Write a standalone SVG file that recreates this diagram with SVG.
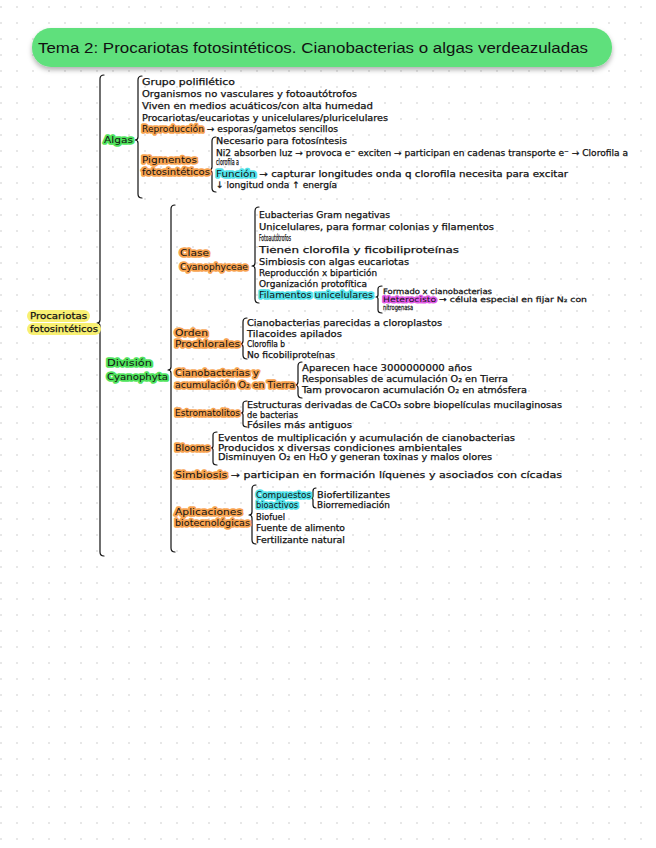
<svg xmlns="http://www.w3.org/2000/svg" width="656" height="848" viewBox="0 0 656 848">
<defs>
<pattern id="dots" x="0" y="0" width="16" height="16" patternUnits="userSpaceOnUse">
<circle cx="1" cy="7" r="0.8" fill="#c9c9c9"/>
</pattern>
<filter id="sh" x="-5%" y="-30%" width="110%" height="170%">
<feDropShadow dx="0" dy="3" stdDeviation="2.5" flood-color="#000" flood-opacity="0.3"/>
</filter>
<style>
.t{font-family:"DejaVu Sans","Liberation Sans",sans-serif;font-size:9px;fill:#111;stroke:#111;stroke-width:0.25;}
.s{font-size:7.5px;}
.hg{stroke:#4fe35c;stroke-width:3.5;stroke-linejoin:round;paint-order:stroke;}
.ho{stroke:#f7a24f;stroke-width:3.5;stroke-linejoin:round;paint-order:stroke;}
.ht{stroke:#52e3ea;stroke-width:3.5;stroke-linejoin:round;paint-order:stroke;}
.hm{stroke:#e25ae8;stroke-width:3;stroke-linejoin:round;paint-order:stroke;}
.br{fill:none;stroke:#111;stroke-width:1.2;stroke-linecap:round;stroke-linejoin:round;}
.title{font-family:"Liberation Sans",sans-serif;font-size:15px;fill:#111;}
</style>
</defs>
<rect width="656" height="848" fill="#fff"/>
<rect width="656" height="848" fill="url(#dots)"/>

<g id="title">
<rect x="32" y="28" width="580" height="39" rx="19" fill="#5fe07b" filter="url(#sh)"/>
<text class="title" x="38" y="53" textLength="550" lengthAdjust="spacingAndGlyphs">Tema 2: Procariotas fotosintéticos. Cianobacterias o algas verdeazuladas</text>
</g>

<g id="connectors">
<path class="br" d="M104 75 Q100 75 100 79 L100 320 Q100 323 97 323 Q100 323 100 326 L100 552 Q100 556 104 556"/>
<path class="br" d="M142 76 Q138 76 138 80 L138 137 Q138 140 135 140 Q138 140 138 143 L138 194 Q138 198 142 198"/>
<path class="br" d="M216 137 Q212 137 212 141 L212 167 Q212 170 209 170 Q212 170 212 173 L212 188 Q212 192 216 192"/>
<path class="br" d="M175 205 Q171 205 171 209 L171 367 Q171 370 168 370 Q171 370 171 373 L171 548 Q171 552 175 552"/>
<path class="br" d="M259 207 Q255 207 255 211 L255 263 Q255 266 252 266 Q255 266 255 269 L255 299 Q255 303 259 303"/>
<path class="br" d="M382 286 Q378 286 378 289 L378 295 Q378 297 376 297 Q378 297 378 299 L378 310 Q378 313 382 313"/>
<path class="br" d="M247 318 Q243 318 243 322 L243 341 Q243 344 240 344 Q243 344 243 347 L243 355 Q243 359 247 359"/>
<path class="br" d="M302 362 Q298 362 298 366 L298 382 Q298 385 295 385 Q298 385 298 388 L298 394 Q298 398 302 398"/>
<path class="br" d="M247 401 Q243 401 243 404 L243 411 Q243 413 241 413 Q243 413 243 415 L243 424 Q243 427 247 427"/>
<path class="br" d="M217 432 Q213 432 213 435 L213 446 Q213 448 211 448 Q213 448 213 450 L213 462 Q213 465 217 465"/>
<path class="br" d="M256 485 Q252 485 252 489 L252 512 Q252 515 249 515 Q252 515 252 518 L252 540 Q252 544 256 544"/>
<path class="br" d="M316 488 Q313 488 313 491 L313 496 Q313 498 311 498 Q313 498 313 500 L313 505 Q313 508 316 508"/>
</g>

<g id="procariotas">
<rect x="27" y="310" width="63" height="12" rx="6" fill="#f8f072"/>
<rect x="27" y="323" width="74" height="12" rx="6" fill="#f8f072"/>
<text class="t" x="30" y="319" textLength="57" lengthAdjust="spacingAndGlyphs">Procariotas</text>
<text class="t" x="30" y="332" textLength="68" lengthAdjust="spacingAndGlyphs">fotosintéticos</text>
</g>

<g id="algas">
<text class="t hg" x="104" y="143" textLength="29" lengthAdjust="spacingAndGlyphs">Algas</text>
<text class="t" x="142" y="85" textLength="93" lengthAdjust="spacingAndGlyphs">Grupo polifilético</text>
<text class="t" x="142" y="97" textLength="215" lengthAdjust="spacingAndGlyphs">Organismos no vasculares y fotoautótrofos</text>
<text class="t" x="142" y="109" textLength="231" lengthAdjust="spacingAndGlyphs">Viven en medios acuáticos/con alta humedad</text>
<text class="t" x="142" y="121" textLength="246" lengthAdjust="spacingAndGlyphs">Procariotas/eucariotas y unicelulares/pluricelulares</text>
<text class="t" x="142" y="132" textLength="196" lengthAdjust="spacingAndGlyphs"><tspan class="ho">Reproducción</tspan> → esporas/gametos sencillos</text>
</g>

<g id="pigmentos">
<text class="t ho" x="142" y="163" textLength="55" lengthAdjust="spacingAndGlyphs">Pigmentos</text>
<text class="t ho" x="142" y="175" textLength="68" lengthAdjust="spacingAndGlyphs">fotosintéticos</text>
<text class="t" x="216" y="144" textLength="131" lengthAdjust="spacingAndGlyphs">Necesario para fotosíntesis</text>
<text class="t" x="216" y="156" textLength="412" lengthAdjust="spacingAndGlyphs">Ni2 absorben luz → provoca e⁻ exciten → participan en cadenas transporte e⁻ → Clorofila a</text>
<text class="t" x="216" y="165" textLength="23" lengthAdjust="spacingAndGlyphs">clorofila a</text>
<text class="t" x="216" y="177" textLength="352" lengthAdjust="spacingAndGlyphs"><tspan class="ht">Función</tspan> → capturar longitudes onda q clorofila necesita para excitar</text>
<text class="t" x="216" y="188" textLength="121" lengthAdjust="spacingAndGlyphs">↓ longitud onda ↑ energía</text>
</g>

<g id="division">
<text class="t hg" x="107" y="366" textLength="45" lengthAdjust="spacingAndGlyphs">División</text>
<text class="t hg" x="107" y="380" textLength="61" lengthAdjust="spacingAndGlyphs">Cyanophyta</text>
</g>

<g id="clase">
<text class="t ho" x="180" y="256" textLength="29" lengthAdjust="spacingAndGlyphs">Clase</text>
<text class="t ho" x="180" y="270" textLength="68" lengthAdjust="spacingAndGlyphs">Cyanophyceae</text>
<text class="t" x="259" y="218" textLength="131" lengthAdjust="spacingAndGlyphs">Eubacterias Gram negativas</text>
<text class="t" x="259" y="229.5" textLength="235" lengthAdjust="spacingAndGlyphs">Unicelulares, para formar colonias y filamentos</text>
<text class="t" x="259" y="241" textLength="32" lengthAdjust="spacingAndGlyphs">Fotoautótrofos</text>
<text class="t" x="259" y="253" textLength="200" lengthAdjust="spacingAndGlyphs">Tienen clorofila y ficobiliproteínas</text>
<text class="t" x="259" y="265" textLength="150" lengthAdjust="spacingAndGlyphs">Simbiosis con algas eucariotas</text>
<text class="t" x="259" y="276" textLength="118" lengthAdjust="spacingAndGlyphs">Reproducción x bipartición</text>
<text class="t" x="259" y="287" textLength="108" lengthAdjust="spacingAndGlyphs">Organización protofítica</text>
<text class="t ht" x="259" y="298" textLength="114" lengthAdjust="spacingAndGlyphs">Filamentos unicelulares</text>
</g>

<g id="filamentos">
<text class="t s" x="383" y="294" textLength="109" lengthAdjust="spacingAndGlyphs">Formado x cianobacterias</text>
<text class="t s" x="383" y="302" textLength="204" lengthAdjust="spacingAndGlyphs"><tspan class="hm">Heterocisto</tspan> → célula especial en fijar N₂ con</text>
<text class="t s" x="383" y="310" textLength="30" lengthAdjust="spacingAndGlyphs">nitrogenasa</text>
</g>

<g id="orden">
<text class="t ho" x="175" y="336" textLength="33" lengthAdjust="spacingAndGlyphs">Orden</text>
<text class="t ho" x="175" y="347" textLength="65" lengthAdjust="spacingAndGlyphs">Prochlorales</text>
<text class="t" x="247" y="326" textLength="195" lengthAdjust="spacingAndGlyphs">Cianobacterias parecidas a cloroplastos</text>
<text class="t" x="247" y="337" textLength="95" lengthAdjust="spacingAndGlyphs">Tilacoides apilados</text>
<text class="t" x="247" y="347" textLength="38" lengthAdjust="spacingAndGlyphs">Clorofila b</text>
<text class="t" x="247" y="358" textLength="88" lengthAdjust="spacingAndGlyphs">No ficobiliproteínas</text>
</g>

<g id="acumulacion">
<text class="t ho" x="175" y="376" textLength="84" lengthAdjust="spacingAndGlyphs">Cianobacterias y</text>
<text class="t ho" x="175" y="388" textLength="120" lengthAdjust="spacingAndGlyphs">acumulación O₂ en Tierra</text>
<text class="t" x="302" y="371" textLength="170" lengthAdjust="spacingAndGlyphs">Aparecen hace 3000000000 años</text>
<text class="t" x="302" y="382" textLength="206" lengthAdjust="spacingAndGlyphs">Responsables de acumulación O₂ en Tierra</text>
<text class="t" x="302" y="393" textLength="225" lengthAdjust="spacingAndGlyphs">Tam provocaron acumulación O₂ en atmósfera</text>
</g>

<g id="estromatolitos">
<text class="t ho" x="175" y="416" textLength="65" lengthAdjust="spacingAndGlyphs">Estromatolitos</text>
<text class="t" x="247" y="408" textLength="315" lengthAdjust="spacingAndGlyphs">Estructuras derivadas de CaCO₃ sobre biopelículas mucilaginosas</text>
<text class="t" x="247" y="418" textLength="51" lengthAdjust="spacingAndGlyphs">de bacterias</text>
<text class="t" x="247" y="428" textLength="105" lengthAdjust="spacingAndGlyphs">Fósiles más antiguos</text>
</g>

<g id="blooms">
<text class="t ho" x="175" y="451" textLength="35" lengthAdjust="spacingAndGlyphs">Blooms</text>
<text class="t" x="218" y="441" textLength="297" lengthAdjust="spacingAndGlyphs">Eventos de multiplicación y acumulación de cianobacterias</text>
<text class="t" x="218" y="451" textLength="244" lengthAdjust="spacingAndGlyphs">Producidos x diversas condiciones ambientales</text>
<text class="t" x="218" y="460" textLength="274" lengthAdjust="spacingAndGlyphs">Disminuyen O₂ en H₂O y generan toxinas y malos olores</text>
</g>

<g id="simbiosis">
<text class="t" x="175" y="478" textLength="387" lengthAdjust="spacingAndGlyphs"><tspan class="ho">Simbiosis</tspan> → participan en formación líquenes y asociados con cícadas</text>
</g>

<g id="aplicaciones">
<text class="t ho" x="175" y="515" textLength="67" lengthAdjust="spacingAndGlyphs">Aplicaciones</text>
<text class="t ho" x="175" y="526" textLength="75" lengthAdjust="spacingAndGlyphs">biotecnológicas</text>
<text class="t ht" x="256" y="498" textLength="55" lengthAdjust="spacingAndGlyphs">Compuestos</text>
<text class="t ht" x="256" y="508" textLength="42" lengthAdjust="spacingAndGlyphs">bioactivos</text>
<text class="t" x="317" y="498" textLength="73" lengthAdjust="spacingAndGlyphs">Biofertilizantes</text>
<text class="t" x="317" y="508" textLength="73" lengthAdjust="spacingAndGlyphs">Biorremediación</text>
<text class="t" x="256" y="520" textLength="29" lengthAdjust="spacingAndGlyphs">Biofuel</text>
<text class="t" x="256" y="531" textLength="89" lengthAdjust="spacingAndGlyphs">Fuente de alimento</text>
<text class="t" x="256" y="543" textLength="89" lengthAdjust="spacingAndGlyphs">Fertilizante natural</text>
</g>
</svg>
